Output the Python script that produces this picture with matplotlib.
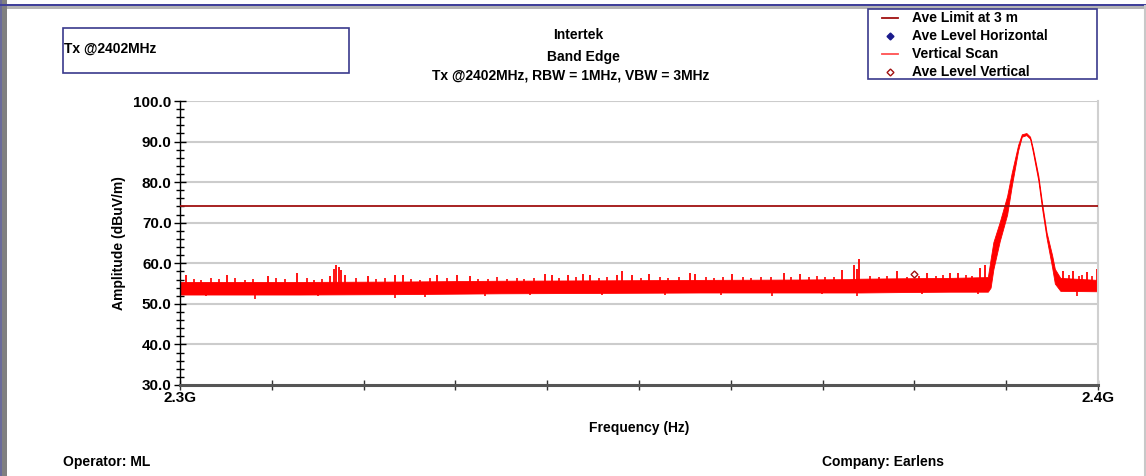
import matplotlib
matplotlib.use("Agg")
import matplotlib.pyplot as plt
from matplotlib.patches import Rectangle
from matplotlib.lines import Line2D
from matplotlib.ticker import FixedLocator, MultipleLocator, FixedFormatter

plt.rcParams['font.family'] = ['Liberation Sans', 'DejaVu Sans']
plt.rcParams['font.weight'] = 'bold'

# vertical scan envelope (MHz, low dBuV/m, high dBuV/m)
scan_freq = [2300.0, 2313.1, 2324.0, 2334.9, 2345.8,
             2356.6, 2367.5, 2373.0, 2374.1, 2378.4, 2383.9, 2388.0, 2388.3,
             2388.6, 2389.3, 2390.1, 2390.6, 2391.3, 2391.7, 2392.2, 2392.6,
             2392.9, 2393.5, 2393.9, 2394.4, 2395.0, 2395.3, 2395.9, 2400.0]
scan_low = [52.3, 52.3, 52.4, 52.6, 52.7,
            52.8, 52.8, 52.8, 52.8, 52.9, 53.0, 53.0, 54.0,
            58.5, 65.5, 72.0, 79.0, 87.8, 91.2, 91.6, 90.7,
            87.5, 80.4, 73.6, 66.2, 59.0, 55.0, 53.2, 53.1]
scan_high = [55.4, 55.4, 55.5, 55.7, 55.8,
             55.9, 56.0, 56.1, 56.2, 56.3, 56.4, 56.6, 61.0,
             65.2, 70.2, 76.6, 82.3, 89.2, 91.8, 92.1, 91.2,
             88.4, 81.6, 75.0, 67.6, 62.0, 58.6, 56.4, 55.9]

# individual noise spikes visible above / below the band
spike_up_freq = [2300.7, 2305.1, 2309.6, 2312.7, 2316.3, 2316.8, 2317.0, 2317.3,
                 2317.5, 2318.0, 2320.5, 2323.4, 2324.3, 2328.0, 2330.2, 2331.6,
                 2339.8, 2340.5, 2342.3, 2343.9, 2344.7, 2347.6, 2348.1, 2349.2,
                 2351.1, 2355.6, 2356.1, 2360.1, 2365.8, 2367.5, 2372.1, 2373.4,
                 2373.7, 2374.0, 2378.1, 2381.4, 2383.9, 2384.7, 2387.1, 2387.7,
                 2396.2, 2397.3, 2398.8, 2399.9]
spike_up_val = [57.0, 57.0, 56.8, 57.6, 56.8, 58.6, 59.6, 59.2,
                58.4, 57.0, 56.8, 57.0, 57.0, 57.2, 57.0, 56.8,
                57.4, 57.2, 57.2, 57.4, 57.2, 57.0, 58.1, 57.2,
                57.4, 57.7, 57.4, 57.3, 57.7, 57.3, 58.4, 59.6,
                58.6, 61.0, 58.2, 57.6, 57.6, 57.6, 58.8, 59.6,
                58.0, 58.0, 57.8, 58.5]

# smaller ragged spikes along the top edge of the band
spike_small_freq = [2301.5, 2302.3, 2303.4, 2304.2, 2306.0, 2307.1, 2308.0, 2310.5,
                    2311.4, 2313.8, 2314.6, 2315.5, 2319.2, 2321.4, 2322.3, 2325.2,
                    2326.1, 2327.2, 2329.1, 2332.5, 2333.6, 2334.5, 2335.6, 2336.7,
                    2337.5, 2338.6, 2341.3, 2343.1, 2345.6, 2346.5, 2350.2, 2352.3,
                    2353.2, 2354.4, 2357.3, 2358.2, 2359.2, 2361.3, 2362.2, 2363.3,
                    2364.4, 2366.6, 2368.5, 2369.4, 2370.3, 2371.2, 2375.2, 2376.1,
                    2377.0, 2379.2, 2380.5, 2382.3, 2383.1, 2385.6, 2386.3, 2396.8,
                    2397.9, 2398.3, 2399.3]
spike_small_val = [56.2, 56.0, 56.4, 56.1, 56.3, 56.0, 56.2, 56.4,
                   56.1, 56.3, 56.0, 56.2, 56.3, 56.1, 56.4, 56.2,
                   56.0, 56.3, 56.4, 56.1, 56.2, 56.5, 56.2, 56.4,
                   56.1, 56.3, 56.4, 56.6, 56.3, 56.5, 56.4, 56.6,
                   56.3, 56.5, 56.6, 56.4, 56.7, 56.5, 56.4, 56.7,
                   56.5, 56.6, 56.5, 56.8, 56.6, 56.7, 56.8, 56.6,
                   56.9, 56.7, 56.9, 56.8, 57.0, 57.0, 56.9, 57.2,
                   56.9, 57.1, 56.8]

spike_down_freq = [2302.8, 2308.2, 2315.0, 2323.4, 2326.7, 2333.2, 2338.1, 2346.0,
                   2352.8, 2358.9, 2364.5, 2369.9, 2373.7, 2380.8, 2386.9, 2397.7]
spike_down_val = [51.9, 51.3, 52.0, 51.5, 51.6, 51.9, 52.1, 52.2,
                  52.2, 52.3, 52.0, 52.4, 52.0, 52.4, 52.5, 51.9]

ave_vert_freq = [2380.0]
ave_vert_val = [57.4]
ave_limit = 74.0

W, H = 1146, 476


def fx(x):
    return x / W


def fy(y):
    return 1 - y / H


fig = plt.figure(figsize=(W / 100, H / 100), dpi=100)
fig.patch.set_facecolor('white')

# outer window frame
fig.add_artist(Rectangle((0, 0), fx(7), 1, transform=fig.transFigure,
                         facecolor='#808080', edgecolor='none'))
fig.add_artist(Rectangle((0, 0), fx(2), 1, transform=fig.transFigure,
                         facecolor='#6a6a9a', edgecolor='none'))
fig.add_artist(Rectangle((0, fy(6)), 1, fy(4) - fy(6), transform=fig.transFigure,
                         facecolor='#40409a', edgecolor='none'))
fig.add_artist(Rectangle((fx(7), fy(9)), 1, fy(6) - fy(9), transform=fig.transFigure,
                         facecolor='#b4b4b4', edgecolor='none'))
fig.add_artist(Line2D([fx(1144.5), fx(1144.5)], [0, fy(6)], transform=fig.transFigure,
                      color='#c8c8c8', lw=1.5))

ax = fig.add_axes([fx(180), fy(385), fx(1098) - fx(180), fy(101) - fy(385)])
ax.set_xlim(2300, 2400)
ax.set_ylim(30, 100)

for g in range(40, 101, 10):
    ax.axhline(g, color='#cccccc', lw=1.5, zorder=0)

ax.fill_between(scan_freq, scan_low, scan_high, color='#ff0000', lw=0.6,
                edgecolor='#ff0000', zorder=2)
ax.vlines(spike_up_freq, 54.5, spike_up_val, color='#ff0000', lw=1.3, zorder=2)
ax.vlines(spike_small_freq, 54.5, spike_small_val, color='#ff0000', lw=1.2, zorder=2)
ax.vlines(spike_down_freq, spike_down_val, 54.0, color='#ff0000', lw=1.2, zorder=2)
ax.axhline(ave_limit, color='#a01010', lw=1.3, zorder=3)
ax.plot(ave_vert_freq, ave_vert_val, 'D', ms=3.5, mfc='white', mec='#a01010',
        mew=1.0, zorder=4)

ax.spines['top'].set_visible(False)
ax.spines['right'].set_color('#d0d0d0')
ax.spines['right'].set_linewidth(1.5)
ax.spines['left'].set_color('black')
ax.spines['left'].set_linewidth(1.0)
ax.spines['bottom'].set_color('#555555')
ax.spines['bottom'].set_linewidth(2.2)

ax.yaxis.set_major_locator(MultipleLocator(10))
ax.yaxis.set_minor_locator(MultipleLocator(2))
ax.yaxis.set_major_formatter(plt.FuncFormatter(lambda v, p: f"{v:.1f}"))
ax.tick_params(axis='y', which='major', direction='inout', length=8, width=1,
               pad=2, labelsize=11)
ax.tick_params(axis='y', which='minor', direction='inout', length=6, width=1)

ax.xaxis.set_major_locator(FixedLocator([2300, 2400]))
ax.xaxis.set_major_formatter(FixedFormatter(['2.3G', '2.4G']))
ax.xaxis.set_minor_locator(MultipleLocator(10))
ax.tick_params(axis='x', which='both', direction='inout', length=7, width=1,
               color='#333333', pad=1, labelsize=11)

ax.set_ylabel('Amplitude (dBuV/m)', fontsize=10, fontweight='bold', labelpad=5)
ax.set_xlabel('Frequency (Hz)', fontsize=10, fontweight='bold', labelpad=11)

# header text
fig.text(fx(578), fy(35), 'Intertek', ha='center', va='center', fontsize=10)
fig.text(fx(583), fy(57), 'Band Edge', ha='center', va='center', fontsize=10)
fig.text(fx(571), fy(75), 'Tx @2402MHz, RBW = 1MHz, VBW = 3MHz', ha='center',
         va='center', fontsize=10)

# note box
fig.add_artist(Rectangle((fx(63), fy(73)), fx(349) - fx(63), fy(28) - fy(73),
                         transform=fig.transFigure, facecolor='white',
                         edgecolor='#3a3a8c', lw=1.2))
fig.text(fx(64), fy(49), 'Tx @2402MHz', ha='left', va='center', fontsize=10)

# legend box
fig.add_artist(Rectangle((fx(868), fy(79)), fx(1097) - fx(868), fy(9) - fy(79),
                         transform=fig.transFigure, facecolor='white',
                         edgecolor='#3a3a8c', lw=1.2))
rows = [18, 36, 54, 72]
labels = ['Ave Limit at 3 m', 'Ave Level Horizontal', 'Vertical Scan', 'Ave Level Vertical']
fig.add_artist(Line2D([fx(882), fx(898)], [fy(rows[0])] * 2, transform=fig.transFigure,
                      color='#a01010', lw=1.3))
fig.add_artist(Line2D([fx(890)], [fy(rows[1])], transform=fig.transFigure,
                      marker='D', ms=3.5, color='#1a1a8c', ls='none'))
fig.add_artist(Line2D([fx(882), fx(898)], [fy(rows[2])] * 2, transform=fig.transFigure,
                      color='#ff5050', lw=1.3))
fig.add_artist(Line2D([fx(890)], [fy(rows[3])], transform=fig.transFigure,
                      marker='D', ms=3.5, mfc='white', mec='#a01010', mew=1.0,
                      ls='none'))
for r, lab in zip(rows, labels):
    fig.text(fx(912), fy(r), lab, ha='left', va='center', fontsize=10)

fig.text(fx(63), fy(462), 'Operator: ML', ha='left', va='center', fontsize=10)
fig.text(fx(822), fy(462), 'Company: Earlens', ha='left', va='center', fontsize=10)

fig.savefig('out.png', dpi=100, facecolor='white')
